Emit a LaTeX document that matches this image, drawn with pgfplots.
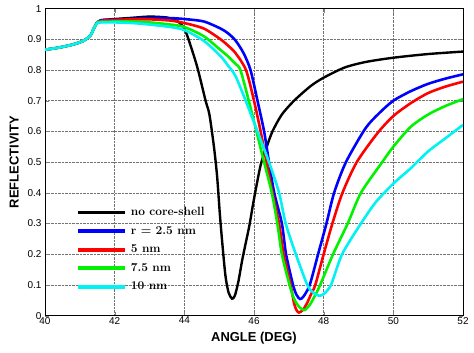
\documentclass[border=0pt]{standalone}
\usepackage{fontspec}
\usepackage{pgfplots}
\pgfplotsset{compat=1.18}
\newfontfamily\arial{Liberation Sans}
\definecolor{cblack}{rgb}{0,0,0}
\definecolor{cblue}{rgb}{0,0,1}
\definecolor{cred}{rgb}{1,0,0}
\definecolor{cgreen}{rgb}{0,0.95,0}
\definecolor{ccyan}{rgb}{0,0.95,0.95}
\begin{document}
\begin{tikzpicture}
\path[use as bounding box] (0,0) rectangle (474bp,353bp);
\begin{axis}[
  at={(45bp,37.4bp)}, anchor=south west,
  scale only axis, width=418bp, height=307bp,
  xmin=40, xmax=52, ymin=0, ymax=1,
  xtick={40,42,44,46,48,50,52},
  xticklabels={40,42,44,46,48,50,52},
  ytick={0,0.1,0.2,0.3,0.4,0.5,0.6,0.7,0.8,0.9,1},
  yticklabels={0,0.1,0.2,0.3,0.4,0.5,0.6,0.7,0.8,0.9,1},
  tick label style={font=\arial\fontsize{10}{12}\selectfont},
  xticklabel style={yshift=2bp},
  tick align=inside, major tick length=4bp,
  grid=major, grid style={densely dotted, black!55, line width=0.5pt},
  axis line style={line width=0.6pt},
  xlabel={ANGLE (DEG)}, ylabel={REFLECTIVITY},
  label style={font=\arial\bfseries\fontsize{13}{15}\selectfont},
  xlabel style={at={(axis description cs:0.5,-0.075)}, anchor=center},
  ylabel style={at={(axis description cs:-0.074,0.5)}, anchor=center},
  legend image code/.code={\fill[#1] (0bp,-0.55bp) rectangle (44bp,0.55bp); \path (50bp,0bp);},
  legend cell align=left,
  legend style={draw=none, fill=none, inner sep=0pt,
    at={(axis description cs:0.079,0.2147)}, anchor=west,
    font=\bfseries\fontsize{12}{14}\selectfont,
    row sep=6.5bp,
    nodes={inner sep=0pt, text height=9bp, text depth=3bp}},
]
\addplot[cblack, line width=2.4pt, smooth, tension=0.45] coordinates {
(40.0,0.866) (40.4,0.873) (40.8,0.883) (41.1,0.895) (41.3,0.912) (41.4,0.935) (41.5,0.955)
(41.6,0.962) (42.0,0.966) (42.5,0.970) (43.0,0.974) (43.5,0.971) (43.75,0.962) (43.88,0.952)
(44.0,0.935) (44.12,0.90) (44.37,0.81) (44.61,0.70) (44.72,0.655) (44.85,0.55) (44.94,0.455)
(45.02,0.33) (45.09,0.236) (45.18,0.13) (45.27,0.075) (45.37,0.055) (45.45,0.065) (45.55,0.11)
(45.66,0.18) (45.76,0.235) (45.87,0.295) (46.0,0.38) (46.19,0.49) (46.35,0.545) (46.53,0.60)
(46.8,0.655) (47.15,0.70) (47.63,0.748) (48.0,0.775) (48.6,0.808) (49.2,0.826) (50.0,0.84)
(51.0,0.852) (52.0,0.86)};
\addlegendentry{no core-shell}
\addplot[cblue, line width=2.6pt, smooth, tension=0.45] coordinates {
(40.0,0.866) (40.4,0.873) (40.8,0.883) (41.1,0.895) (41.3,0.912) (41.4,0.935) (41.5,0.955)
(41.6,0.962) (42.0,0.964) (43.0,0.969) (43.6,0.969) (44.0,0.966) (44.56,0.958) (45.04,0.935)
(45.25,0.92) (45.47,0.896) (45.7,0.855) (45.9,0.80) (46.1,0.70) (46.29,0.60) (46.43,0.50)
(46.58,0.40) (46.8,0.30) (46.92,0.20) (47.12,0.10) (47.22,0.068) (47.32,0.054) (47.42,0.062)
(47.6,0.10) (47.84,0.20) (48.08,0.30) (48.3,0.40) (48.64,0.50) (49.2,0.61) (49.6,0.66)
(50.0,0.70) (50.5,0.731) (51.0,0.755) (51.5,0.772) (52.0,0.786)};
\addlegendentry{r = 2.5 nm}
\addplot[cred, line width=2.6pt, smooth, tension=0.45] coordinates {
(40.0,0.866) (40.4,0.873) (40.8,0.883) (41.1,0.895) (41.3,0.912) (41.4,0.935) (41.5,0.955)
(41.6,0.960) (42.0,0.963) (42.5,0.965) (43.0,0.965) (43.6,0.961) (44.0,0.953) (44.56,0.935)
(45.04,0.90) (45.25,0.88) (45.47,0.855) (45.77,0.80) (46.0,0.70) (46.19,0.60) (46.36,0.50)
(46.53,0.40) (46.72,0.30) (46.85,0.20) (47.05,0.10) (47.15,0.04) (47.22,0.018) (47.29,0.01)
(47.4,0.018) (47.52,0.04) (47.64,0.07) (47.76,0.10) (48.0,0.20) (48.25,0.30) (48.54,0.40)
(48.95,0.50) (49.55,0.595) (50.0,0.65) (50.5,0.692) (51.0,0.725) (51.5,0.746) (52.0,0.762)};
\addlegendentry{5 nm}
\addplot[cgreen, line width=2.6pt, smooth, tension=0.45] coordinates {
(40.0,0.866) (40.4,0.873) (40.8,0.883) (41.1,0.895) (41.3,0.912) (41.4,0.935) (41.5,0.955)
(41.6,0.957) (42.0,0.958) (42.5,0.958) (43.0,0.955) (43.6,0.948) (44.0,0.94) (44.56,0.91)
(45.04,0.865) (45.25,0.845) (45.47,0.82) (45.61,0.80) (45.85,0.70) (46.07,0.60) (46.29,0.50)
(46.51,0.40) (46.67,0.30) (46.8,0.20) (47.02,0.10) (47.15,0.055) (47.3,0.028) (47.45,0.018)
(47.6,0.035) (47.75,0.065) (47.9,0.10) (48.27,0.20) (48.69,0.30) (49.07,0.40) (49.65,0.495)
(50.0,0.55) (50.5,0.615) (51.0,0.655) (51.5,0.683) (52.0,0.705)};
\addlegendentry{7.5 nm}
\addplot[ccyan, line width=2.6pt, smooth, tension=0.45] coordinates {
(40.0,0.866) (40.4,0.873) (40.8,0.883) (41.1,0.895) (41.3,0.912) (41.4,0.935) (41.5,0.953)
(41.6,0.955) (42.0,0.955) (42.5,0.953) (43.0,0.948) (43.6,0.94) (44.0,0.93) (44.56,0.895)
(45.04,0.845) (45.25,0.815) (45.47,0.78) (45.76,0.70) (46.1,0.60) (46.43,0.50) (46.72,0.40)
(46.91,0.30) (47.2,0.20) (47.53,0.10) (47.7,0.075) (47.86,0.065) (48.0,0.07) (48.21,0.10)
(48.53,0.20) (49.07,0.30) (49.5,0.37) (50.0,0.43) (50.5,0.48) (51.0,0.535) (51.5,0.578)
(52.0,0.621)};
\addlegendentry{10 nm}
\end{axis}
\end{tikzpicture}
\end{document}
